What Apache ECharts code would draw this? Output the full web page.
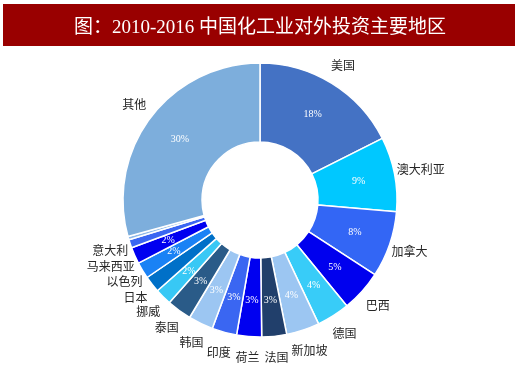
<!DOCTYPE html>
<html><head><meta charset="utf-8">
<script src="https://cdn.jsdelivr.net/npm/echarts@6/dist/echarts.min.js"></script>
<style>html,body{margin:0;padding:0;background:#fff}#c{width:520px;height:370px}</style>
</head><body><div id="c"></div>
<script>
const titleText = '图：2010-2016 中国化工业对外投资主要地区';
const regions = ['美国','澳大利亚','加拿大','巴西','德国','新加坡','法国','荷兰','印度','韩国','泰国','挪威','日本','以色列','马来西亚','意大利','','其他'];
const shares  = [18, 9, 8, 5, 4, 4, 3, 3, 3, 3, 3, 2, 2, 2, 2, 1, 0.4, 30];
const colors  = ['#4472C4','#00C8FF','#3366F5','#0000EE','#38CCF8','#9CC6F2','#213F6B','#0000F0','#3A66F2','#9CC6F2','#2A5B88','#38C8F5','#0070C8','#1A82F5','#0000F0','#3A66F2','#8DB8E8','#7DAEDC'];

const CX = 260, CY = 200, R_IN = 58, R_OUT = 137;
const LEN = 4, DIST = 5, LABEL_R = R_OUT + 21, MIN_GAP = 2;

const chart = echarts.init(document.getElementById('c'));
const common = {
  type: 'pie',
  center: [CX, CY],
  radius: [R_IN, R_OUT],
  startAngle: 90,
  clockwise: true,
  animation: false,
  avoidLabelOverlap: false,
  silent: true
};
// Centre each outside label on its slice's mid-angle, keeping the whole box outside the ring.
function placeLabel(p) {
  const r = p.labelRect;
  const right = (r.x + r.width / 2) > CX;
  const ax = right ? r.x - DIST : r.x + r.width + DIST;
  const ay = r.y + r.height / 2;
  let ux = ax - CX, uy = ay - CY;
  const d = Math.sqrt(ux * ux + uy * uy) || 1;
  ux /= d; uy /= d;
  const half = Math.abs(ux) * r.width / 2 + Math.abs(uy) * r.height / 2;
  const rc = Math.max(LABEL_R, R_OUT + MIN_GAP + half);
  return { x: CX + ux * rc, y: CY + uy * rc, align: 'center', verticalAlign: 'middle' };
}
chart.setOption({
  graphic: [{ type: 'rect', shape: { x: 3, y: 4, width: 512, height: 42 }, style: { fill: '#990000' }, silent: true }],
  title: {
    text: titleText, left: 'center', top: 14,
    textStyle: { color: '#fff', fontSize: 19, fontWeight: 'normal', fontFamily: 'Liberation Serif, Noto Sans CJK SC' }
  },
  series: [
    Object.assign({}, common, {
      data: regions.map((n, i) => ({ name: n, value: shares[i], itemStyle: { color: colors[i] }, label: { show: n !== '' } })),
      itemStyle: { borderColor: '#fff', borderWidth: 1.5 },
      label: { position: 'inside', formatter: '{c}%', color: '#fff', fontSize: 10, fontFamily: 'Liberation Serif' },
      labelLine: { show: false }
    }),
    Object.assign({}, common, {
      data: regions.map((n, i) => ({ name: n, value: shares[i] })),
      itemStyle: { color: 'rgba(0,0,0,0)' },
      label: { position: 'outside', formatter: '{b}', color: '#262626', fontSize: 12, fontFamily: 'Noto Sans CJK SC', distanceToLabelLine: DIST },
      labelLine: { show: false, length: LEN, length2: 0 },
      labelLayout: placeLabel
    })
  ]
});
</script></body></html>
